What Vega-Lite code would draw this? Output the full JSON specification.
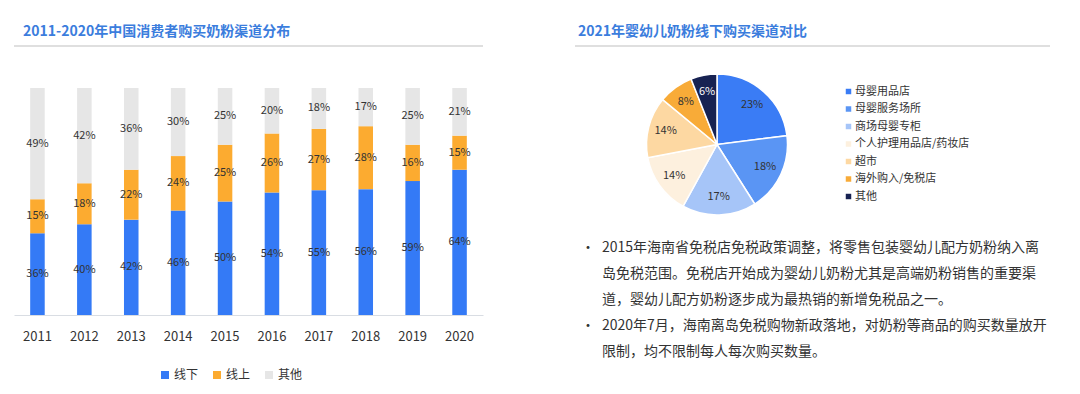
{
  "$schema": "https://vega.github.io/schema/vega-lite/v6.json",
  "background": "white",
  "padding": {"left": 13, "top": 25, "right": 0, "bottom": 0},
  "config": {
    "view": {"stroke": null},
    "font": "Noto Sans CJK SC",
    "text": {"font": "Noto Sans CJK SC"}
  },
  "resolve": {"scale": {"color": "independent"}, "legend": {"color": "independent"}},
  "spacing": 90,
  "hconcat": [
    {
      "width": 469,
      "height": 227,
      "title": {
        "text": "2011-2020年中国消费者购买奶粉渠道分布",
        "anchor": "start",
        "frame": "group",
        "dx": 9,
        "offset": 6,
        "fontSize": 14,
        "fontWeight": "bold",
        "color": "#3b7ddd",
        "font": "Noto Sans CJK SC"
      },
      "data": {
        "values": [
          {"year": "2011", "channel": "线下", "share": 0.36},
          {"year": "2011", "channel": "线上", "share": 0.15},
          {"year": "2011", "channel": "其他", "share": 0.49},
          {"year": "2012", "channel": "线下", "share": 0.40},
          {"year": "2012", "channel": "线上", "share": 0.18},
          {"year": "2012", "channel": "其他", "share": 0.42},
          {"year": "2013", "channel": "线下", "share": 0.42},
          {"year": "2013", "channel": "线上", "share": 0.22},
          {"year": "2013", "channel": "其他", "share": 0.36},
          {"year": "2014", "channel": "线下", "share": 0.46},
          {"year": "2014", "channel": "线上", "share": 0.24},
          {"year": "2014", "channel": "其他", "share": 0.30},
          {"year": "2015", "channel": "线下", "share": 0.50},
          {"year": "2015", "channel": "线上", "share": 0.25},
          {"year": "2015", "channel": "其他", "share": 0.25},
          {"year": "2016", "channel": "线下", "share": 0.54},
          {"year": "2016", "channel": "线上", "share": 0.26},
          {"year": "2016", "channel": "其他", "share": 0.20},
          {"year": "2017", "channel": "线下", "share": 0.55},
          {"year": "2017", "channel": "线上", "share": 0.27},
          {"year": "2017", "channel": "其他", "share": 0.18},
          {"year": "2018", "channel": "线下", "share": 0.56},
          {"year": "2018", "channel": "线上", "share": 0.28},
          {"year": "2018", "channel": "其他", "share": 0.17},
          {"year": "2019", "channel": "线下", "share": 0.59},
          {"year": "2019", "channel": "线上", "share": 0.16},
          {"year": "2019", "channel": "其他", "share": 0.25},
          {"year": "2020", "channel": "线下", "share": 0.64},
          {"year": "2020", "channel": "线上", "share": 0.15},
          {"year": "2020", "channel": "其他", "share": 0.21}
        ]
      },
      "layer": [
        {
          "mark": {"type": "bar"},
          "encoding": {
            "x": {
              "field": "year",
              "type": "ordinal",
              "scale": {"paddingInner": 0.69, "paddingOuter": 0.345},
              "axis": {
                "title": null,
                "labelAngle": 0,
                "ticks": false,
                "domainColor": "#d9dde3",
                "domainWidth": 1,
                "labelFontSize": 13,
                "labelColor": "#333333",
                "labelPadding": 15,
                "labelFont": "Noto Sans CJK SC"
              }
            },
            "y": {
              "field": "share",
              "type": "quantitative",
              "stack": "normalize",
              "scale": {"domain": [0, 1]},
              "axis": null
            },
            "order": {"field": "channel", "sort": "descending"},
            "color": {
              "field": "channel",
              "type": "nominal",
              "scale": {
                "domain": ["线下", "线上", "其他"],
                "range": ["#347af6", "#fcab30", "#e6e6e6"]
              },
              "legend": {
                "orient": "none",
                "legendX": 145,
                "legendY": 281,
                "direction": "horizontal",
                "title": null,
                "symbolType": "square",
                "symbolSize": 64,
                "symbolStrokeWidth": 0,
                "labelFontSize": 12,
                "labelColor": "#333333",
                "labelOffset": 3,
                "columnPadding": 12,
                "padding": 0,
                "labelFont": "Noto Sans CJK SC"
              }
            }
          }
        },
        {
          "transform": [
            {
              "stack": "share",
              "groupby": ["year"],
              "offset": "normalize",
              "sort": [{"field": "channel", "order": "descending"}],
              "as": ["y0", "y1"]
            },
            {"fold": ["y0", "y1"], "as": ["edge", "pos"]},
            {
              "aggregate": [{"op": "mean", "field": "pos", "as": "mid"}],
              "groupby": ["year", "channel", "share"]
            }
          ],
          "mark": {"type": "text", "fontSize": 11, "color": "#333333", "baseline": "middle"},
          "encoding": {
            "x": {"field": "year", "type": "ordinal"},
            "y": {"field": "mid", "type": "quantitative"},
            "text": {"field": "share", "type": "quantitative", "format": ".0%"}
          }
        },
        {
          "data": {"values": [{}]},
          "mark": {"type": "rule", "color": "#d4d4d4", "strokeWidth": 1.5},
          "encoding": {"y": {"datum": 1.185}}
        }
      ]
    },
    {
      "spacing": 23,
      "vconcat": [
        {
          "width": 284,
          "height": 113,
          "title": {
            "text": "2021年婴幼儿奶粉线下购买渠道对比",
            "anchor": "start",
            "frame": "group",
            "dx": 3,
            "offset": 6,
            "fontSize": 14,
            "fontWeight": "bold",
            "color": "#3b7ddd",
            "font": "Noto Sans CJK SC"
          },
          "data": {
            "values": [
              {"channel": "母婴用品店", "share": 0.23},
              {"channel": "母婴服务场所", "share": 0.18},
              {"channel": "商场母婴专柜", "share": 0.17},
              {"channel": "个人护理用品店/药妆店", "share": 0.14},
              {"channel": "超市", "share": 0.14},
              {"channel": "海外购入/免税店", "share": 0.08},
              {"channel": "其他", "share": 0.06}
            ]
          },
          "layer": [
            {
              "mark": {"type": "arc", "outerRadius": 70.5, "stroke": "white", "strokeWidth": 1.5},
              "encoding": {
                "theta": {"field": "share", "type": "quantitative", "stack": true},
                "order": {"field": "share", "sort": "descending"},
                "color": {
                  "field": "channel",
                  "type": "nominal",
                  "scale": {
                    "domain": ["母婴用品店", "母婴服务场所", "商场母婴专柜", "个人护理用品店/药妆店", "超市", "海外购入/免税店", "其他"],
                    "range": ["#3a7cf5", "#5a95f4", "#a6c5f8", "#fdf0de", "#fdd8a2", "#f8ab38", "#172252"]
                  },
                  "legend": {
                    "orient": "none",
                    "legendX": 268,
                    "legendY": -2,
                    "title": null,
                    "symbolType": "square",
                    "symbolSize": 30,
                    "symbolStrokeWidth": 0,
                    "labelFontSize": 11,
                    "labelColor": "#333333",
                    "labelOffset": 1,
                    "rowPadding": 5.5,
                    "padding": 0,
                    "labelFont": "Noto Sans CJK SC"
                  }
                }
              }
            },
            {
              "mark": {"type": "text", "radius": 53, "fontSize": 11},
              "encoding": {
                "theta": {"field": "share", "type": "quantitative", "stack": true},
                "order": {"field": "share", "sort": "descending"},
                "text": {"field": "share", "type": "quantitative", "format": ".0%"},
                "color": {
                  "condition": {"test": "datum.channel === '其他'", "value": "#ffffff"},
                  "value": "#333333"
                }
              }
            },
            {
              "data": {"values": [{}]},
              "mark": {"type": "rule", "color": "#d4d4d4", "strokeWidth": 1.5},
              "encoding": {
                "x": {"datum": 0, "scale": {"domain": [0, 284], "nice": false, "zero": false}, "axis": null},
                "x2": {"datum": 475},
                "y": {"datum": 155, "scale": {"domain": [0, 113], "nice": false}, "axis": null}
              }
            }
          ]
        },
        {
          "width": 30,
          "height": 104,
          "data": {
            "values": [
              {"line": 1, "bullet": "•", "text": "2015年海南省免税店免税政策调整，将零售包装婴幼儿配方奶粉纳入离"},
              {"line": 2, "bullet": "", "text": "岛免税范围。免税店开始成为婴幼儿奶粉尤其是高端奶粉销售的重要渠"},
              {"line": 3, "bullet": "", "text": "道，婴幼儿配方奶粉逐步成为最热销的新增免税品之一。"},
              {"line": 4, "bullet": "•", "text": "2020年7月，海南离岛免税购物新政落地，对奶粉等商品的购买数量放开"},
              {"line": 5, "bullet": "", "text": "限制，均不限制每人每次购买数量。"}
            ]
          },
          "layer": [
            {
              "mark": {"type": "text", "align": "center", "baseline": "middle", "fontSize": 14, "color": "#333333"},
              "encoding": {
                "x": {"datum": 0, "scale": {"domain": [0, 1], "range": [13, 27]}, "axis": null},
                "y": {"field": "line", "type": "quantitative", "scale": {"domain": [1, 5], "reverse": true, "nice": false, "zero": false}, "axis": null},
                "text": {"field": "bullet"}
              }
            },
            {
              "mark": {"type": "text", "align": "left", "baseline": "middle", "fontSize": 14, "color": "#333333"},
              "encoding": {
                "x": {"datum": 1},
                "y": {"field": "line", "type": "quantitative"},
                "text": {"field": "text"}
              }
            }
          ]
        }
      ]
    }
  ]
}
